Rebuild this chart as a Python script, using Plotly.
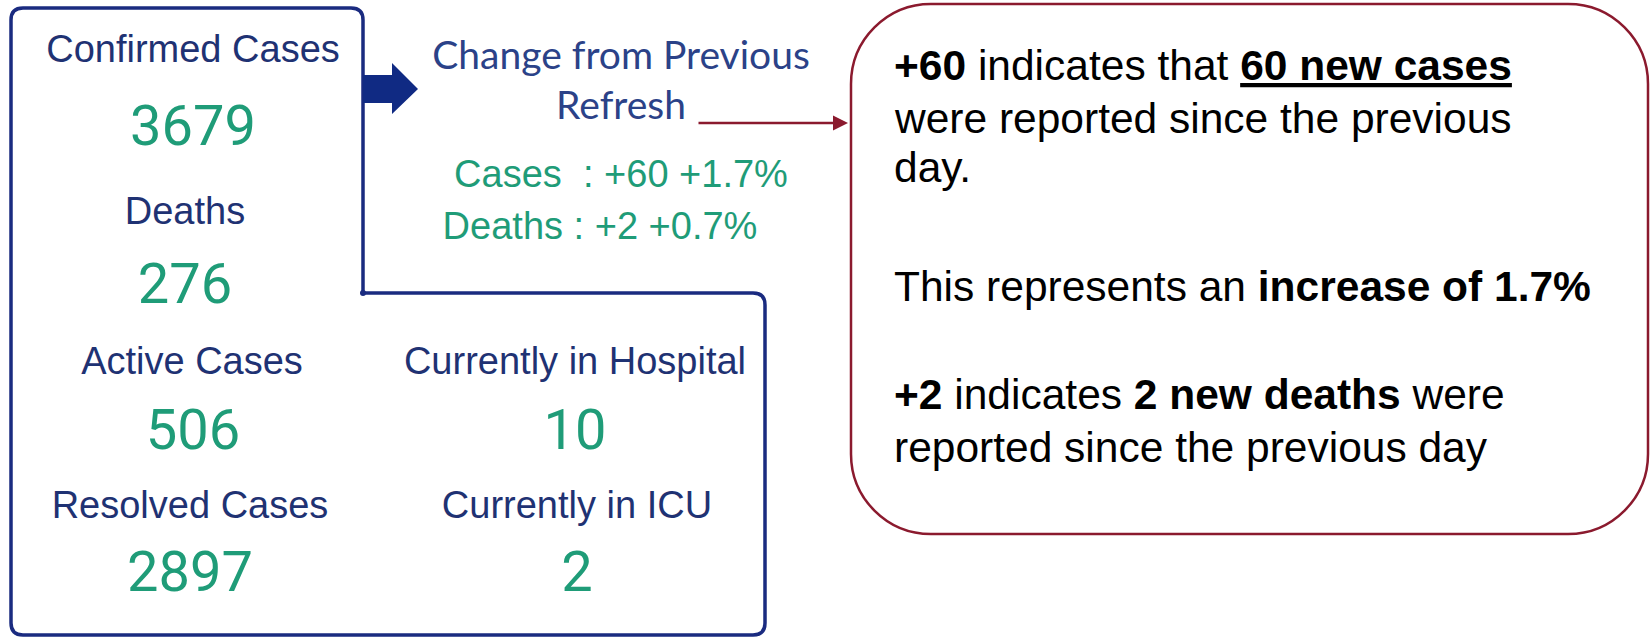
import plotly.graph_objects as go

# Données du tableau de bord
stat_labels = ["Confirmed Cases", "Deaths", "Active Cases", "Resolved Cases",
               "Currently in Hospital", "Currently in ICU"]
stat_values = [3679, 276, 506, 2897, 10, 2]

change_labels = ["Cases\u00a0 ", "Deaths "]
change_counts = [60, 2]
change_pct = [1.7, 0.7]

# Positions (pixels, origine en haut à gauche)
label_x = [193, 185, 192, 190, 575, 577]
label_y = [52, 214, 364, 508, 364, 508]
value_x = [193, 185, 193, 190, 575, 577]
value_y = [131, 289, 435, 577, 435, 577]

NAVY = "#1f3273"
BOX = "#1a2b80"
GREEN = "#1f9c78"
RED = "#8b1a2e"

W, H = 1651, 639
fig = go.Figure()

# Libellés et valeurs
fig.add_trace(go.Scatter(
    x=label_x, y=label_y, mode="text", text=stat_labels,
    textfont=dict(family="Liberation Sans, Arial", size=38, color=NAVY),
    hoverinfo="skip", showlegend=False,
))
fig.add_trace(go.Scatter(
    x=value_x, y=value_y, mode="text", text=[str(v) for v in stat_values],
    textfont=dict(family="Roboto", size=56, color=GREEN),
    hoverinfo="skip", showlegend=False,
))

# Variation depuis la dernière mise à jour
fig.add_trace(go.Scatter(
    x=[621, 621], y=[59, 109], mode="text",
    text=["Change from Previous", "Refresh"],
    textfont=dict(family="Lato", size=39, color="#2b4288"),
    hoverinfo="skip", showlegend=False,
))
change_text = [f"{lab}: +{c} +{p}%" for lab, c, p in zip(change_labels, change_counts, change_pct)]
fig.add_trace(go.Scatter(
    x=[621, 600], y=[177, 229], mode="text", text=change_text,
    textfont=dict(family="Liberation Sans, Arial", size=38, color=GREEN),
    hoverinfo="skip", showlegend=False,
))

# Cadre en L
fig.add_shape(type="path", line=dict(color=BOX, width=3.5),
              path="M 11,20 Q 11,8 23,8 L 351,8 Q 363,8 363,20 L 363,293 "
                   "L 753,293 Q 765,293 765,305 L 765,623 Q 765,635 753,635 "
                   "L 23,635 Q 11,635 11,623 Z")
fig.add_shape(type="circle", x0=360, x1=366, y0=290, y1=296,
              fillcolor=BOX, line=dict(width=0))

# Flèche bleue
fig.add_shape(type="path", fillcolor="#102a83", line=dict(width=0),
              path="M 363,75 L 392,75 L 392,63 L 418,89 L 392,114 L 392,103 L 363,103 Z")

# Encadré explicatif arrondi
r = 80
k = 0.5523 * r
x0, x1, y0, y1 = 851, 1648, 4, 534
box_path = (f"M {x0+r},{y0} L {x1-r},{y0} C {x1-r+k},{y0} {x1},{y0+r-k} {x1},{y0+r} "
            f"L {x1},{y1-r} C {x1},{y1-r+k} {x1-r+k},{y1} {x1-r},{y1} "
            f"L {x0+r},{y1} C {x0+r-k},{y1} {x0},{y1-r+k} {x0},{y1-r} "
            f"L {x0},{y0+r} C {x0},{y0+r-k} {x0+r-k},{y0} {x0+r},{y0} Z")
fig.add_shape(type="path", path=box_path, line=dict(color=RED, width=2.5))

# Flèche rouge
fig.add_annotation(x=848, y=123, ax=697, ay=123, xref="x", yref="y",
                   axref="x", ayref="y", text="", showarrow=True,
                   arrowhead=2, arrowsize=1.2, arrowwidth=2.5, arrowcolor=RED)

expl_lines = [
    f"<b>+{change_counts[0]}</b> indicates that <b><u>{change_counts[0]} new cases</u></b>",
    "were reported since the previous",
    "day.",
    f"This represents an <b>increase of {change_pct[0]}%</b>",
    f"<b>+{change_counts[1]}</b> indicates <b>{change_counts[1]} new deaths</b> were",
    "reported since the previous day",
]
expl_y = [65, 118, 167, 286, 394, 447]
for txt, yy in zip(expl_lines, expl_y):
    fig.add_annotation(x=892, y=yy, xref="x", yref="y", text=txt, showarrow=False,
                       xanchor="left", yanchor="middle", align="left",
                       font=dict(family="Liberation Sans, Arial", size=42.5, color="black"))

fig.update_layout(
    width=W, height=H, margin=dict(l=0, r=0, t=0, b=0),
    paper_bgcolor="white", plot_bgcolor="white",
    xaxis=dict(range=[0, W], visible=False, fixedrange=True),
    yaxis=dict(range=[H, 0], visible=False, fixedrange=True),
)

fig.write_html("out.html", config={"displayModeBar": False},
               post_script="document.body.style.margin='0';document.body.style.overflow='hidden';")
